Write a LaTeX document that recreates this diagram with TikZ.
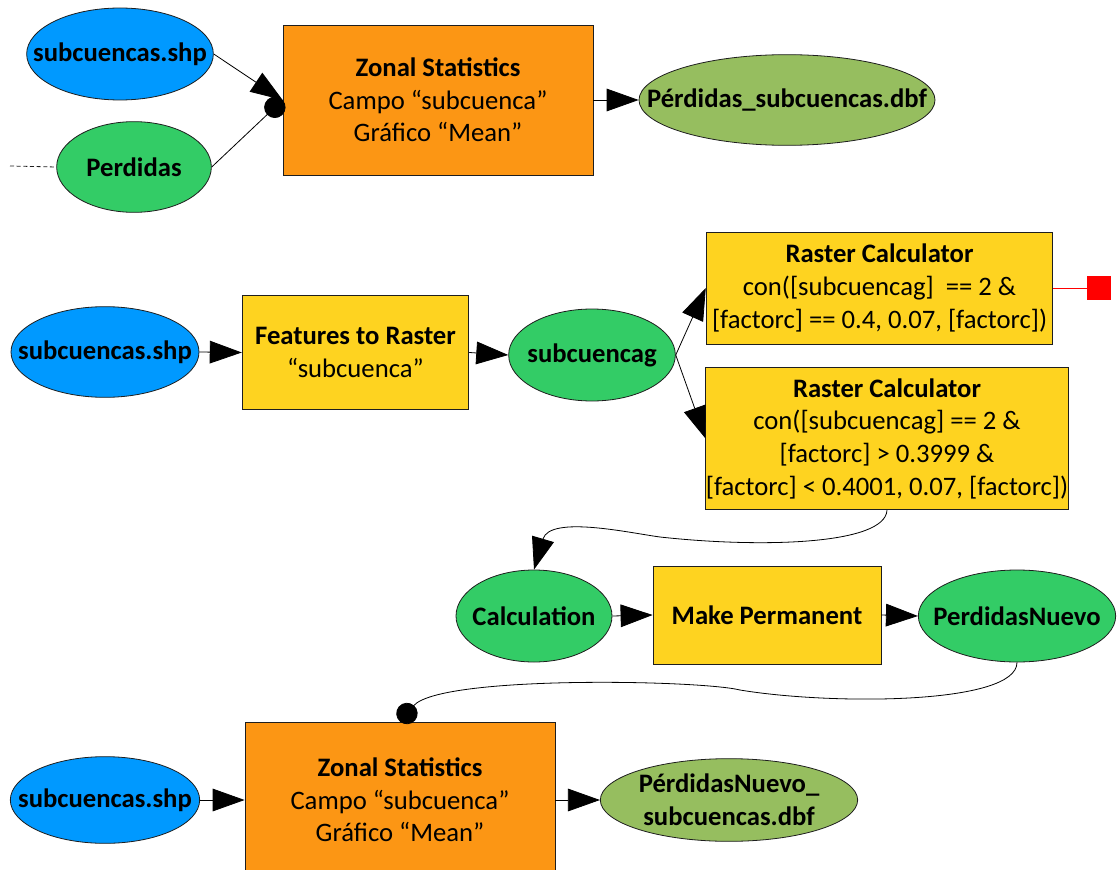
\documentclass[tikz,border=0pt]{standalone}
\usepackage{fontspec}
\setmainfont{Carlito}
\usetikzlibrary{arrows.meta, shapes.geometric}
\definecolor{SB}{RGB}{0,153,255}
\definecolor{SG}{RGB}{51,204,102}
\definecolor{OG}{RGB}{150,190,95}
\definecolor{OR}{RGB}{252,150,20}
\definecolor{YE}{RGB}{254,211,32}
\definecolor{DG}{RGB}{30,30,30}

\begin{document}
\begin{tikzpicture}[x=0.75pt, y=-0.75pt,
  box/.style={draw=DG, fill=#1, line width=0.6pt, inner sep=0pt,
              align=center, font=\fontsize{20}{24.5}\selectfont},
  ell/.style={draw=DG, fill=#1, ellipse, line width=0.6pt,
              inner xsep=-40pt, inner ysep=-20pt,
              align=center, font=\fontsize{20}{24.5}\selectfont\bfseries},
  arr/.style={-{Triangle[length=24pt, width=17pt]}, line width=0.6pt, draw=black},
  dot/.style={-{Circle[length=16pt]}, line width=0.6pt, draw=black}
]
\useasboundingbox (0,0) rectangle (1117,870);

\node[ell=SB, minimum width=140pt, minimum height=69pt]   (shpA) at (120,54)   {subcuencas.shp};
\node[ell=SG, minimum width=116pt, minimum height=68pt]   (perd) at (134,167)  {Perdidas};
\node[box=OR, minimum width=232.5pt, minimum height=112.5pt] (zsA) at (438,100)
  {\textbf{Zonal Statistics}\\Campo “subcuenca”\\Gráfico “Mean”};
\node[ell=OG, minimum width=222pt, minimum height=68pt]   (dbfA) at (787,100)  {Pérdidas\_subcuencas.dbf};

\node[ell=SB, minimum width=141pt, minimum height=68pt]   (shpB) at (105,352)  {subcuencas.shp};
\node[box=YE, minimum width=170pt, minimum height=85pt]   (ftr)  at (355.5,352.5)
  {\textbf{Features to Raster}\\“subcuenca”};
\node[ell=SG, minimum width=125pt, minimum height=69pt]   (scg)  at (592,355)  {subcuencag};
\node[box=YE, minimum width=260pt, minimum height=84pt]   (rcA)  at (879.5,288)
  {\textbf{Raster Calculator}\\con([subcuencag]~~== 2 \&\\{}[factorc] == 0.4, 0.07, [factorc])};
\node[box=YE, minimum width=271.5pt, minimum height=107pt] (rcB) at (887,438.5)
  {\textbf{Raster Calculator}\\con([subcuencag] == 2 \&\\{}[factorc] > 0.3999 \&\\{}[factorc] < 0.4001, 0.07, [factorc])};
\node[draw=red, fill=red, minimum size=17pt, inner sep=0pt] (redsq) at (1098.5,288) {};

\node[ell=SG, minimum width=117pt, minimum height=69pt]   (calc) at (534,616)  {Calculation};
\node[box=YE, minimum width=171pt, minimum height=73.5pt, font=\fontsize{20}{24.5}\selectfont\bfseries]
                                                          (mkp)  at (767,615)  {Make Permanent};
\node[ell=SG, minimum width=148pt, minimum height=69pt]   (pn)   at (1017,616) {PerdidasNuevo};

\node[ell=SB, minimum width=142pt, minimum height=65pt]   (shpC) at (105,800)  {subcuencas.shp};
\node[box=OR, minimum width=232.5pt, minimum height=117pt] (zsB) at (400,800)
  {\textbf{Zonal Statistics}\\Campo “subcuenca”\\Gráfico “Mean”};
\node[ell=OG, minimum width=193pt, minimum height=62pt]   (dbfB) at (729,800)  {PérdidasNuevo\_\\subcuencas.dbf};

\coordinate (perdin) at (10,166);
\draw[DG, line width=0.6pt, dash pattern=on 3pt off 2pt] (perdin) -- (perd.west);

\draw[arr] (shpA.east) -- (zsA.west);
\draw[dot] (perd.east) -- (zsA.west);
\draw[arr] (zsA.east) -- (dbfA.west);

\draw[arr] (shpB.east) -- (ftr.west);
\draw[arr] (ftr.east) -- (scg.west);
\draw[arr] (scg.east) -- (rcA.west);
\draw[arr] (scg.east) -- (rcB.west);
\draw[red, line width=0.6pt] (rcA.east) -- (redsq.west);

\draw[arr] (rcB.south) .. controls (885,545) and (760,548) .. (660,537)
  .. controls (630,533) and (550,515) .. (calc.north);
\draw[arr] (calc.east) -- (mkp.west);
\draw[arr] (mkp.east) -- (pn.west);

\draw[dot] (pn.south) .. controls (1017,705) and (830,705) .. (740,690)
  .. controls (700,680) and (440,675) .. (zsB.north);
\draw[arr] (shpC.east) -- (zsB.west);
\draw[arr] (zsB.east) -- (dbfB.west);
\end{tikzpicture}
\end{document}
